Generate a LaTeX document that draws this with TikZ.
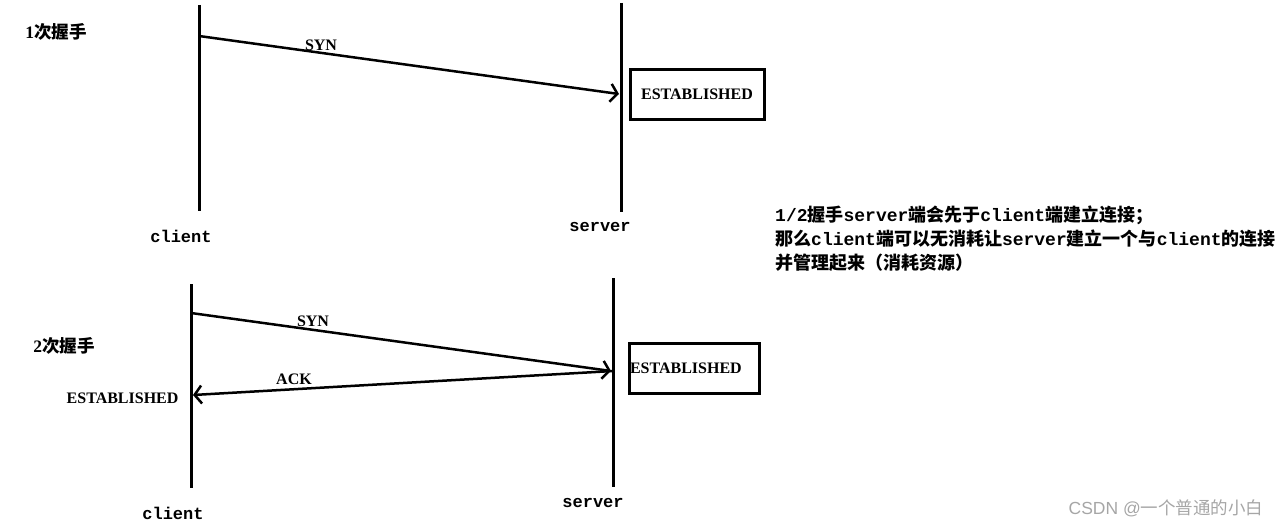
\documentclass[tikz,border=0pt]{standalone}
\usepackage{fontspec}
\setmainfont{Liberation Serif}
\setmonofont{Liberation Mono}
\newfontfamily\cjk{Noto Sans CJK SC}
\newfontfamily\wmsans{Liberation Sans}
\usetikzlibrary{arrows.meta}
\newcommand{\zh}[1]{{\cjk #1}}

\tikzset{
  lifeline/.style={line width=3pt},
  msg/.style={line width=2.5pt, -{Straight Barb[length=7pt,width=18pt,line width=2.5pt]}},
  statebox/.style={draw, line width=3pt, minimum height=50pt, inner sep=0pt,
    font=\fontsize{16}{18}\selectfont\bfseries},
  msglabel/.style={font=\fontsize{16}{18}\selectfont\bfseries},
  endname/.style={font=\ttfamily\fontsize{17}{20}\selectfont\bfseries},
  phase/.style={font=\fontsize{17.5}{20}\selectfont\bfseries},
}

\begin{document}
\begin{tikzpicture}[x=1pt, y=-1pt]
    \useasboundingbox (0,0) rectangle (1284,527);

    % 1st handshake
    \node[phase] (phaseA) at (56,32) {1\zh{次握手}};
    \coordinate (cliAtop) at (199,5);
    \coordinate (cliAbot) at (199,211);
    \coordinate (srvAtop) at (621,3);
    \coordinate (srvAbot) at (621,212);
    \draw[lifeline] (cliAtop) -- (cliAbot);
    \draw[lifeline] (srvAtop) -- (srvAbot);
    \node[endname] (cliA) at (181,236) {client};
    \node[endname] (srvA) at (600,227) {server};
    \coordinate (synAfrom) at (199,36);
    \coordinate (synAto) at (619,94);
    \draw[msg] (synAfrom) -- (synAto);
    \node[msglabel] (synA) at (321,45) {SYN};
    \node[statebox, minimum width=134pt] (estA) at (697,94) {ESTABLISHED};

    % note
    \node[anchor=north west, align=left, font=\ttfamily\fontsize{18}{24}\selectfont\bfseries,
      inner sep=0pt] (note) at (775,206)
      {1/2\zh{握手}server\zh{端会先于}client\zh{端建立连接；}\\
       \zh{那么}client\zh{端可以无消耗让}server\zh{建立一个与}client\zh{的连接}\\
       \zh{并管理起来（消耗资源）}};

    % 2nd handshake
    \node[phase] (phaseB) at (64,346) {2\zh{次握手}};
    \coordinate (cliBtop) at (191,284);
    \coordinate (cliBbot) at (191,488);
    \coordinate (srvBtop) at (613,278);
    \coordinate (srvBbot) at (613,487);
    \draw[lifeline] (cliBtop) -- (cliBbot);
    \draw[lifeline] (srvBtop) -- (srvBbot);
    \node[endname] (cliB) at (173,513) {client};
    \node[endname] (srvB) at (593,503) {server};
    \coordinate (synBfrom) at (191,313);
    \coordinate (synBto) at (611,371);
    \coordinate (ackBfrom) at (613,371);
    \coordinate (ackBto) at (193,395);
    \draw[msg] (synBfrom) -- (synBto);
    \draw[msg] (ackBfrom) -- (ackBto);
    \node[msglabel] (synB) at (313,321) {SYN};
    \node[msglabel] (ackB) at (294,379) {ACK};
    \node[msglabel, anchor=east] (estBcli) at (182,398) {ESTABLISHED};
    \node[statebox, minimum width=130pt, text width=128pt, align=left] (estB) at (694,368) {ESTABLISHED};

    % watermark
    \node[text=gray!70, font=\fontsize{17.5}{20}\selectfont] (mark) at (1166,508)
      {\wmsans CSDN @\zh{一个普通的小白}};
\end{tikzpicture}
\end{document}
